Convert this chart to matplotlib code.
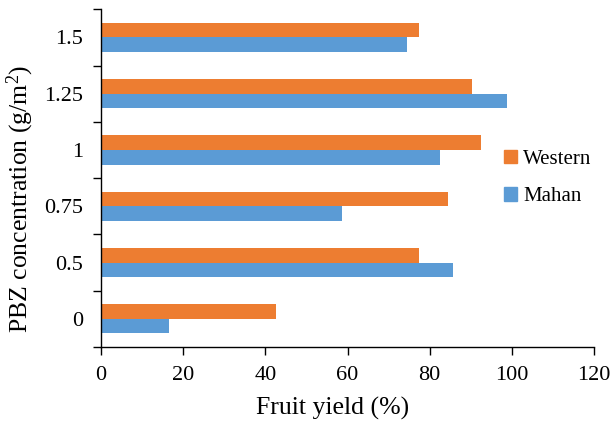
import matplotlib
matplotlib.use("Agg")
import matplotlib.pyplot as plt
import numpy as np
from matplotlib.patches import Patch

categories = ["0", "0.5", "0.75", "1", "1.25", "1.5"]
western = [42.5, 77.5, 84.5, 92.5, 90.3, 77.5]
mahan = [16.5, 85.6, 58.7, 82.5, 98.7, 74.6]
xticks = [0, 20, 40, 60, 80, 100, 120]

plt.rcParams['font.family'] = ['Liberation Serif', 'DejaVu Serif']
plt.rcParams['mathtext.fontset'] = 'custom'
plt.rcParams['mathtext.rm'] = 'Liberation Serif'
plt.rcParams['mathtext.it'] = 'Liberation Serif'
plt.rcParams['mathtext.bf'] = 'Liberation Serif'

fig = plt.figure(figsize=(6.11, 4.21), dpi=100)
ax = fig.add_axes([0.1653, 0.1758, 0.9722 - 0.1653, 0.978 - 0.1758])

orange = "#ED7D31"
blue = "#5B9BD5"
h = 0.26
y = np.arange(len(categories))
ax.barh(y + h / 2, western, height=h, color=orange, label="Western")
ax.barh(y - h / 2, mahan, height=h, color=blue, label="Mahan")

ax.set_xlim(0, 120)
ax.set_ylim(-0.5, len(categories) - 0.5)
ax.set_xticks(xticks)
ax.set_xticklabels([str(v) for v in xticks], fontsize=16)
ax.set_yticks(np.arange(-0.5, len(categories), 1.0))
ax.set_yticklabels([])
ax.set_yticks(y, minor=True)
ax.set_yticklabels(categories, minor=True, fontsize=16)
ax.tick_params(axis='y', which='minor', length=0, pad=13)
ax.tick_params(axis='y', which='major', direction='out', length=6, width=1)
ax.tick_params(axis='x', which='major', direction='out', length=6, width=1, pad=8)

for s in ['top', 'right']:
    ax.spines[s].set_visible(False)
for s in ['left', 'bottom']:
    ax.spines[s].set_linewidth(1)

ax.set_xlabel("Fruit yield (%)", fontsize=18.5, labelpad=8)
ax.set_ylabel("PBZ concentration (g/m$^2$)", fontsize=18.5, labelpad=6)
ax.xaxis.label.set_x(0.47)
ax.yaxis.label.set_y(0.438)

handles = [Patch(color=orange), Patch(color=blue)]
leg = ax.legend(handles, ["Western", "Mahan"], fontsize=15, frameon=False,
                loc='center left', bbox_to_anchor=(494 / 611, 1 - 178 / 421),
                bbox_transform=fig.transFigure, handlelength=0.6, handleheight=0.6,
                handletextpad=0.3, labelspacing=0.9, borderpad=0)

fig.savefig("out.png", dpi=100)
